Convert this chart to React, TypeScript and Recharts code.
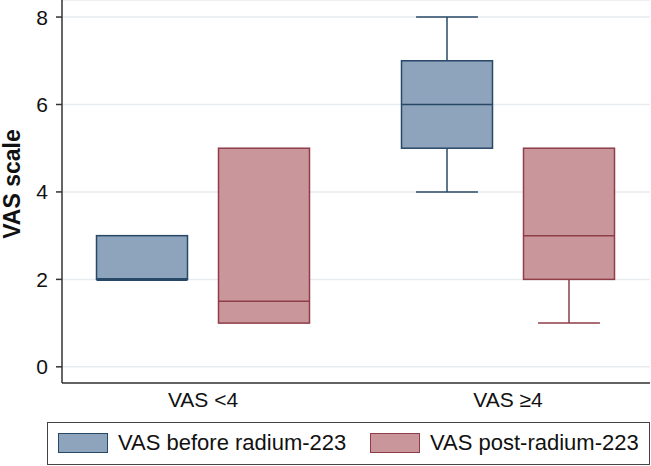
import React from "react";
import { ComposedChart, Bar, XAxis, YAxis, CartesianGrid } from "recharts";

const groups = ["VAS <4", "VAS ≥4"];
// [min, q1, median, q3, max]
const beforeStats = [
  [2, 2, 2, 3, 3],
  [4, 5, 6, 7, 8],
];
const postStats = [
  [1, 1, 1.5, 5, 5],
  [1, 2, 3, 5, 5],
];
const seriesNames = ["VAS before radium-223", "VAS post-radium-223"];
const yTicks = [0, 2, 4, 6, 8];

const BLUE_FILL = "#8da4bc";
const BLUE_LINE = "#284868";
const RED_FILL = "#c9979b";
const RED_LINE = "#8f3d47";
const FONT = "'Liberation Sans', Arial, sans-serif";

const data = groups.map((g, i) => ({
  group: g,
  before: beforeStats[i],
  post: postStats[i],
}));

function makeBox(key: "before" | "post", fill: string, stroke: string) {
  return (props: any) => {
    const { x, y, width, height, payload } = props;
    const [mn, q1, md, q3, mx] = payload[key];
    const top = Math.min(y, y + height);
    const h = Math.abs(height);
    const py = (v: number) => top + (h * (mx - v)) / (mx - mn);
    const cx = x + width / 2;
    const cap = width * 0.34;
    return (
      <g>
        {mx > q3 && (
          <>
            <line x1={cx} x2={cx} y1={py(mx)} y2={py(q3)} stroke={stroke} strokeWidth={1.5} />
            <line x1={cx - cap} x2={cx + cap} y1={py(mx)} y2={py(mx)} stroke={stroke} strokeWidth={1.5} />
          </>
        )}
        {mn < q1 && (
          <>
            <line x1={cx} x2={cx} y1={py(q1)} y2={py(mn)} stroke={stroke} strokeWidth={1.5} />
            <line x1={cx - cap} x2={cx + cap} y1={py(mn)} y2={py(mn)} stroke={stroke} strokeWidth={1.5} />
          </>
        )}
        <rect
          x={x}
          y={py(q3)}
          width={width}
          height={py(q1) - py(q3)}
          fill={fill}
          stroke={stroke}
          strokeWidth={1.5}
        />
        <line x1={x} x2={x + width} y1={py(md)} y2={py(md)} stroke={stroke} strokeWidth={md === q1 ? 3 : 1.5} />
      </g>
    );
  };
}

const yLabel = () => (
  <text
    x={20}
    y={184}
    transform="rotate(-90 20 184)"
    textAnchor="middle"
    fontSize={23}
    fontWeight="bold"
    fontFamily={FONT}
    fill="#111"
  >
    VAS scale
  </text>
);

export default function App() {
  return (
    <div style={{ position: "absolute", left: 0, top: 0, width: 651, height: 466, background: "#fff", fontFamily: FONT }}>
      <ComposedChart
        width={651}
        height={466}
        data={data}
        margin={{ top: 0, right: 1, left: 0, bottom: 53 }}
        barSize={91}
        barGap={31}
      >
        <CartesianGrid vertical={false} stroke="#e8ecef" strokeWidth={1.5} />
        <XAxis
          dataKey="group"
          height={30}
          tickLine={false}
          tickSize={6}
          tickMargin={3}
          padding={{ left: -11.5, right: -10.5 }}
          axisLine={{ stroke: "#333", strokeWidth: 1.5 }}
          tick={{ fill: "#111", fontSize: 21, fontFamily: FONT }}
        />
        <YAxis
          width={62}
          domain={[-0.37, 8.39]}
          allowDataOverflow
          ticks={yTicks}
          tickSize={6}
          tickMargin={8}
          axisLine={{ stroke: "#333", strokeWidth: 1.5 }}
          tickLine={{ stroke: "#333", strokeWidth: 1.5 }}
          tick={{ fill: "#111", fontSize: 21, fontFamily: FONT }}
          label={{ content: yLabel }}
        />
        <Bar
          dataKey={(d: any) => [d.before[0], d.before[4]]}
          name={seriesNames[0]}
          shape={makeBox("before", BLUE_FILL, BLUE_LINE)}
          isAnimationActive={false}
        />
        <Bar
          dataKey={(d: any) => [d.post[0], d.post[4]]}
          name={seriesNames[1]}
          shape={makeBox("post", RED_FILL, RED_LINE)}
          isAnimationActive={false}
        />
      </ComposedChart>
      <div
        style={{
          position: "absolute",
          left: 47,
          top: 422,
          width: 603,
          height: 43,
          border: "1.5px solid #444",
          boxSizing: "border-box",
          fontSize: 22,
          color: "#111",
        }}
      >
        {seriesNames.map((name, i) => (
          <div
            key={name}
            style={{ position: "absolute", left: i === 0 ? 10 : 322, top: 0, height: 40, display: "flex", alignItems: "center" }}
          >
            <div
              style={{
                width: 50,
                height: 20,
                background: i === 0 ? BLUE_FILL : RED_FILL,
                border: `1.5px solid ${i === 0 ? BLUE_LINE : RED_LINE}`,
                boxSizing: "border-box",
                marginRight: 10,
              }}
            />
            <span style={{ whiteSpace: "nowrap" }}>{name}</span>
          </div>
        ))}
      </div>
    </div>
  );
}
